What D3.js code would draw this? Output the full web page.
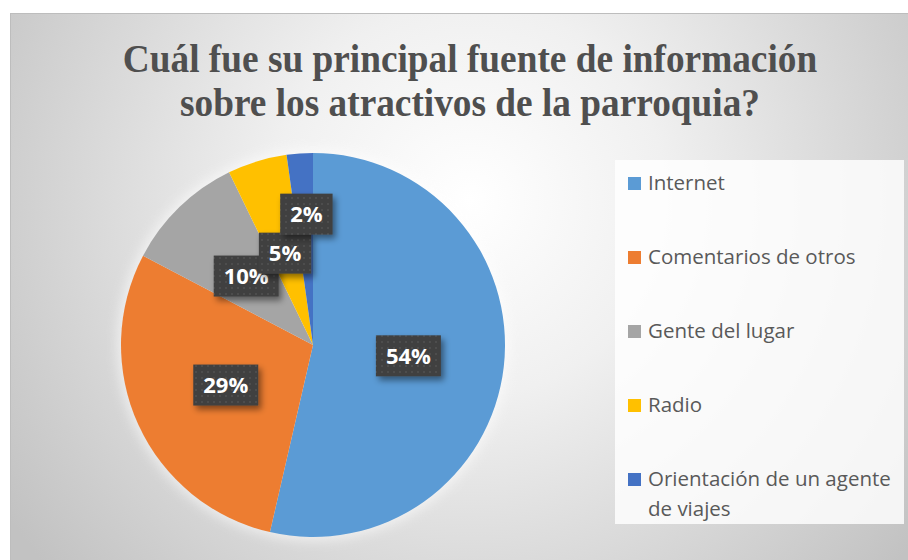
<!DOCTYPE html>
<html>
<head>
<meta charset="utf-8">
<script src="https://cdn.jsdelivr.net/npm/d3@7"></script>
<style>
  html, body { margin: 0; padding: 0; background: #ffffff; }
  svg { display: block; }
</style>
</head>
<body>
<svg id="chart" width="908" height="560"></svg>
<script>
const categories = ["Internet", "Comentarios de otros", "Gente del lugar", "Radio", "Orientación de un agente de viajes"];
const values = [53.6, 29.1, 10.1, 5.0, 2.2];
const colors = ["#5B9BD5", "#ED7D31", "#A5A5A5", "#FFC000", "#4472C4"];
const titleLines = ["Cuál fue su principal fuente de información", "sobre los atractivos de la parroquia?"];

const W = 908, H = 560;
const svg = d3.select("#chart");
const defs = svg.append("defs");

// background gradient
const bg = defs.append("radialGradient").attr("id", "bg")
  .attr("gradientUnits", "userSpaceOnUse")
  .attr("cx", 470).attr("cy", 200).attr("r", 560);
bg.append("stop").attr("offset", "0").attr("stop-color", "#ffffff");
bg.append("stop").attr("offset", "0.35").attr("stop-color", "#f0f0f0");
bg.append("stop").attr("offset", "1").attr("stop-color", "#c2c2c2");

const shadow = defs.append("filter").attr("id", "shadow")
  .attr("x", "-30%").attr("y", "-30%").attr("width", "170%").attr("height", "170%");
shadow.append("feDropShadow").attr("dx", 3).attr("dy", 4).attr("stdDeviation", 3)
  .attr("flood-color", "#000").attr("flood-opacity", 0.45);

const glow = defs.append("filter").attr("id", "glow")
  .attr("x", "-20%").attr("y", "-20%").attr("width", "140%").attr("height", "140%");
glow.append("feGaussianBlur").attr("stdDeviation", 6);

const pat = defs.append("pattern").attr("id", "dots")
  .attr("patternUnits", "userSpaceOnUse").attr("width", 6).attr("height", 6);
pat.append("rect").attr("width", 6).attr("height", 6).attr("fill", "#3f3f3f");
pat.append("rect").attr("x", 2).attr("y", 2).attr("width", 2).attr("height", 2).attr("fill", "#4d4d4d");

// frame
svg.append("rect").attr("x", 10.5).attr("y", 13.5).attr("width", W).attr("height", H)
  .attr("fill", "url(#bg)").attr("stroke", "#bdbdbd").attr("stroke-width", 1);

// title
const title = svg.append("g").attr("transform", "translate(470,0) scale(0.957,1)");
title.selectAll("text").data(titleLines).join("text")
  .attr("x", 0)
  .attr("y", (d, i) => 72 + i * 44)
  .attr("text-anchor", "middle")
  .attr("font-family", "'Liberation Serif', 'Times New Roman', serif")
  .attr("font-weight", "bold")
  .attr("font-size", 39)
  .attr("fill", "#4f4f4f")
  .text(d => d);

// pie
const cx = 313, cy = 345, R = 192;
const pie = d3.pie().sort(null).value(d => d)(values);
const arc = d3.arc().innerRadius(0).outerRadius(R);
const g = svg.append("g").attr("transform", `translate(${cx},${cy})`);
g.append("circle").attr("r", R + 4).attr("fill", "#ffffff").attr("opacity", 0.55).attr("filter", "url(#glow)");
g.selectAll("path.slice").data(pie).join("path")
  .attr("class", "slice")
  .attr("d", arc)
  .attr("fill", (d, i) => colors[i]);

// labels
const fmt = d3.format(".0f");
const labelG = g.append("g");
const placed = [];
pie.forEach((d, i) => {
  const [x, y0] = arc.centroid(d);
  const lg = labelG.append("g");
  const t = lg.append("text")
    .attr("text-anchor", "middle")
    .attr("font-family", "'Open Sans', sans-serif")
    .attr("font-weight", "bold")
    .attr("font-size", 22)
    .attr("fill", "#ffffff")
    .text(fmt(values[i]) + "%");
  const tw = t.node().getComputedTextLength();
  const bw = tw + 20, bh = 41;
  let y = y0;
  let box = { x0: x - bw / 2, x1: x + bw / 2, y0: y - bh / 2, y1: y + bh / 2 };
  placed.forEach(p => {
    const ox = Math.min(box.x1, p.x1) - Math.max(box.x0, p.x0);
    const oy = Math.min(box.y1, p.y1) - Math.max(box.y0, p.y0);
    if (ox > 0 && oy > 0 && ox * oy > 0.3 * bw * bh) {
      y = p.y0 - bh / 2 + 2;
      box = { x0: x - bw / 2, x1: x + bw / 2, y0: y - bh / 2, y1: y + bh / 2 };
    }
  });
  placed.push(box);
  lg.insert("rect", "text")
    .attr("x", box.x0).attr("y", box.y0).attr("width", bw).attr("height", bh)
    .attr("fill", "url(#dots)").attr("filter", "url(#shadow)");
  t.attr("x", x).attr("y", y + 8);
});

// legend
svg.append("rect").attr("x", 615).attr("y", 160).attr("width", 289).attr("height", 364)
  .attr("fill", "#ffffff").attr("opacity", 0.82);
const leg = svg.append("g");
const rowY = d3.scalePoint().domain(categories).range([190, 486]);
categories.forEach((c, i) => {
  const yb = rowY(c);
  leg.append("rect").attr("x", 628).attr("y", yb - 13).attr("width", 13).attr("height", 13)
    .attr("fill", colors[i]);
  const t = leg.append("text")
    .attr("x", 648).attr("y", yb)
    .attr("font-family", "'Open Sans', sans-serif")
    .attr("font-size", 20.5)
    .attr("fill", "#595959");
  const words = c.split(" ");
  let line = [], lineNo = 0;
  let ts = t.append("tspan").attr("x", 648).attr("y", yb);
  words.forEach(w => {
    line.push(w);
    ts.text(line.join(" "));
    if (ts.node().getComputedTextLength() > 252 && line.length > 1) {
      line.pop();
      ts.text(line.join(" "));
      line = [w];
      lineNo++;
      ts = t.append("tspan").attr("x", 648).attr("y", yb + lineNo * 30).text(w);
    }
  });
});
</script>
</body>
</html>
